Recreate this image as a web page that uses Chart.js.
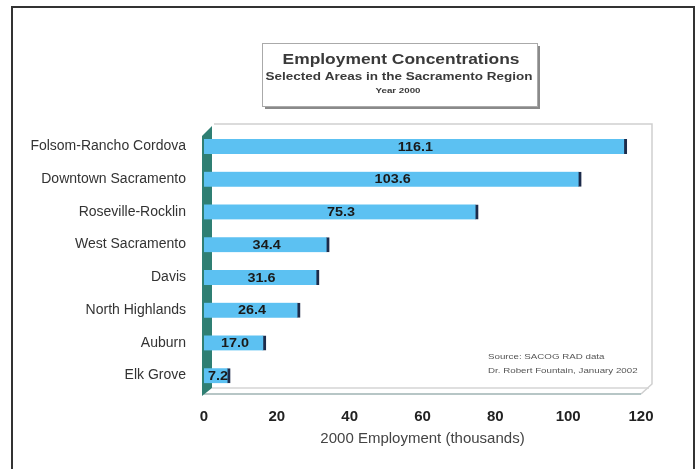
<!DOCTYPE html>
<html>
<head>
<meta charset="utf-8">
<script src="https://cdn.jsdelivr.net/npm/chart.js@4"></script>
<style>
  html, body { margin: 0; padding: 0; background: #fff; }
  #wrap { width: 700px; height: 469px; }
</style>
</head>
<body>
<div id="wrap"><canvas id="chart" width="700" height="469"></canvas></div>
<script>
const areas = ["Folsom-Rancho Cordova", "Downtown Sacramento", "Roseville-Rocklin",
  "West Sacramento", "Davis", "North Highlands", "Auburn", "Elk Grove"];
const jobs = [116.1, 103.6, 75.3, 34.4, 31.6, 26.4, 17.0, 7.2];
const xTicks = [0, 20, 40, 60, 80, 100, 120];

const titleLines = ["Employment Concentrations", "Selected Areas in the Sacramento Region", "Year 2000"];
const sourceLines = ["Source: SACOG RAD data", "Dr. Robert Fountain, January 2002"];

const FONT = "Arial, 'Liberation Sans', sans-serif";

// text drawn with a slight horizontal stretch, like the scanned original
function wideText(ctx, text, x, y, sx) {
  ctx.save();
  ctx.translate(x, y);
  ctx.scale(sx, 1);
  ctx.fillText(text, 0, 0);
  ctx.restore();
}

// frame, 3D walls, title box, value labels and source note
const decor = {
  id: "decor",
  beforeDatasetsDraw(chart) {
    const ctx = chart.ctx;
    const a = chart.chartArea;
    ctx.save();
    // back wall outline
    ctx.strokeStyle = "#cfcfcf";
    ctx.lineWidth = 1.5;
    ctx.beginPath();
    ctx.moveTo(a.left + 10, a.top - 6);
    ctx.lineTo(a.right + 11, a.top - 6);
    ctx.lineTo(a.right + 11, a.bottom - 8);
    ctx.lineTo(a.right, a.bottom + 2);
    ctx.stroke();
    // floor
    ctx.strokeStyle = "#9fb3b3";
    ctx.beginPath();
    ctx.moveTo(a.left, a.bottom + 2);
    ctx.lineTo(a.right, a.bottom + 2);
    ctx.stroke();
    ctx.strokeStyle = "#d5d5d5";
    ctx.beginPath();
    ctx.moveTo(a.left + 8, a.bottom - 4);
    ctx.lineTo(a.right + 8, a.bottom - 4);
    ctx.stroke();
    // left wall
    ctx.fillStyle = "#2f7f73";
    ctx.beginPath();
    ctx.moveTo(a.left - 2, a.top + 6);
    ctx.lineTo(a.left + 8, a.top - 4);
    ctx.lineTo(a.left + 8, a.bottom - 4);
    ctx.lineTo(a.left - 2, a.bottom + 4);
    ctx.closePath();
    ctx.fill();
    ctx.restore();
  },
  afterDatasetsDraw(chart) {
    const ctx = chart.ctx;
    const meta = chart.getDatasetMeta(0);
    ctx.save();
    ctx.fillStyle = "#1a1a1a";
    ctx.font = "bold 12px " + FONT;
    ctx.textAlign = "center";
    ctx.textBaseline = "middle";
    meta.data.forEach((bar, i) => {
      const cx = (bar.base + bar.x) / 2 + (i === 7 ? 1 : 0);
      wideText(ctx, jobs[i].toFixed(1), cx, bar.y + 1, 1.2);
    });
    ctx.restore();
  },
  afterDraw(chart) {
    const ctx = chart.ctx;
    ctx.save();
    // outer frame
    ctx.strokeStyle = "#333";
    ctx.lineWidth = 2;
    ctx.beginPath();
    ctx.moveTo(12, 475);
    ctx.lineTo(12, 7);
    ctx.lineTo(694, 7);
    ctx.lineTo(694, 475);
    ctx.stroke();
    // title box with shadow
    ctx.fillStyle = "#8a8a8a";
    ctx.fillRect(265, 46, 275, 63);
    ctx.fillStyle = "#fff";
    ctx.fillRect(262, 43, 275, 63);
    ctx.strokeStyle = "#aaa";
    ctx.lineWidth = 1;
    ctx.strokeRect(262.5, 43.5, 275, 63);
    ctx.fillStyle = "#3a3a3a";
    ctx.textAlign = "center";
    ctx.textBaseline = "middle";
    ctx.font = "bold 15px " + FONT;
    wideText(ctx, titleLines[0], 401, 60, 1.16);
    ctx.font = "bold 10px " + FONT;
    wideText(ctx, titleLines[1], 399, 77, 1.35);
    ctx.font = "bold 6.5px " + FONT;
    wideText(ctx, titleLines[2], 398, 91, 1.5);
    // source note
    ctx.fillStyle = "#555";
    ctx.textAlign = "left";
    ctx.font = "7.5px " + FONT;
    wideText(ctx, sourceLines[0], 488, 357, 1.3);
    wideText(ctx, sourceLines[1], 488, 371, 1.3);
    ctx.restore();
  }
};

new Chart(document.getElementById("chart"), {
  type: "bar",
  data: {
    labels: areas,
    datasets: [{
      data: jobs,
      backgroundColor: "#5cc1f2",
      borderColor: "#1d2b4a",
      borderWidth: { top: 0, right: 3, bottom: 0, left: 0 },
      borderSkipped: false,
      barThickness: 15
    }]
  },
  options: {
    indexAxis: "y",
    responsive: false,
    animation: false,
    layout: { padding: { left: 12, right: 59, top: 130, bottom: 17 } },
    plugins: {
      legend: { display: false },
      tooltip: { enabled: false }
    },
    scales: {
      x: {
        min: 0,
        max: 120,
        afterFit: s => { s.height = 60; },
        afterBuildTicks: s => { s.ticks = xTicks.map(v => ({ value: v })); },
        grid: { display: false },
        border: { display: false },
        ticks: {
          color: "#222",
          padding: 8,
          font: { family: FONT, size: 15, weight: "bold" }
        },
        title: {
          display: true,
          text: "2000 Employment (thousands)",
          color: "#444",
          padding: { top: 0 },
          font: { family: FONT, size: 15 }
        }
      },
      y: {
        afterFit: s => { s.width = 192; },
        grid: { display: false },
        border: { display: false },
        ticks: {
          color: "#333",
          padding: 10,
          font: { family: FONT, size: 14 }
        }
      }
    }
  },
  plugins: [decor]
});
</script>
</body>
</html>
